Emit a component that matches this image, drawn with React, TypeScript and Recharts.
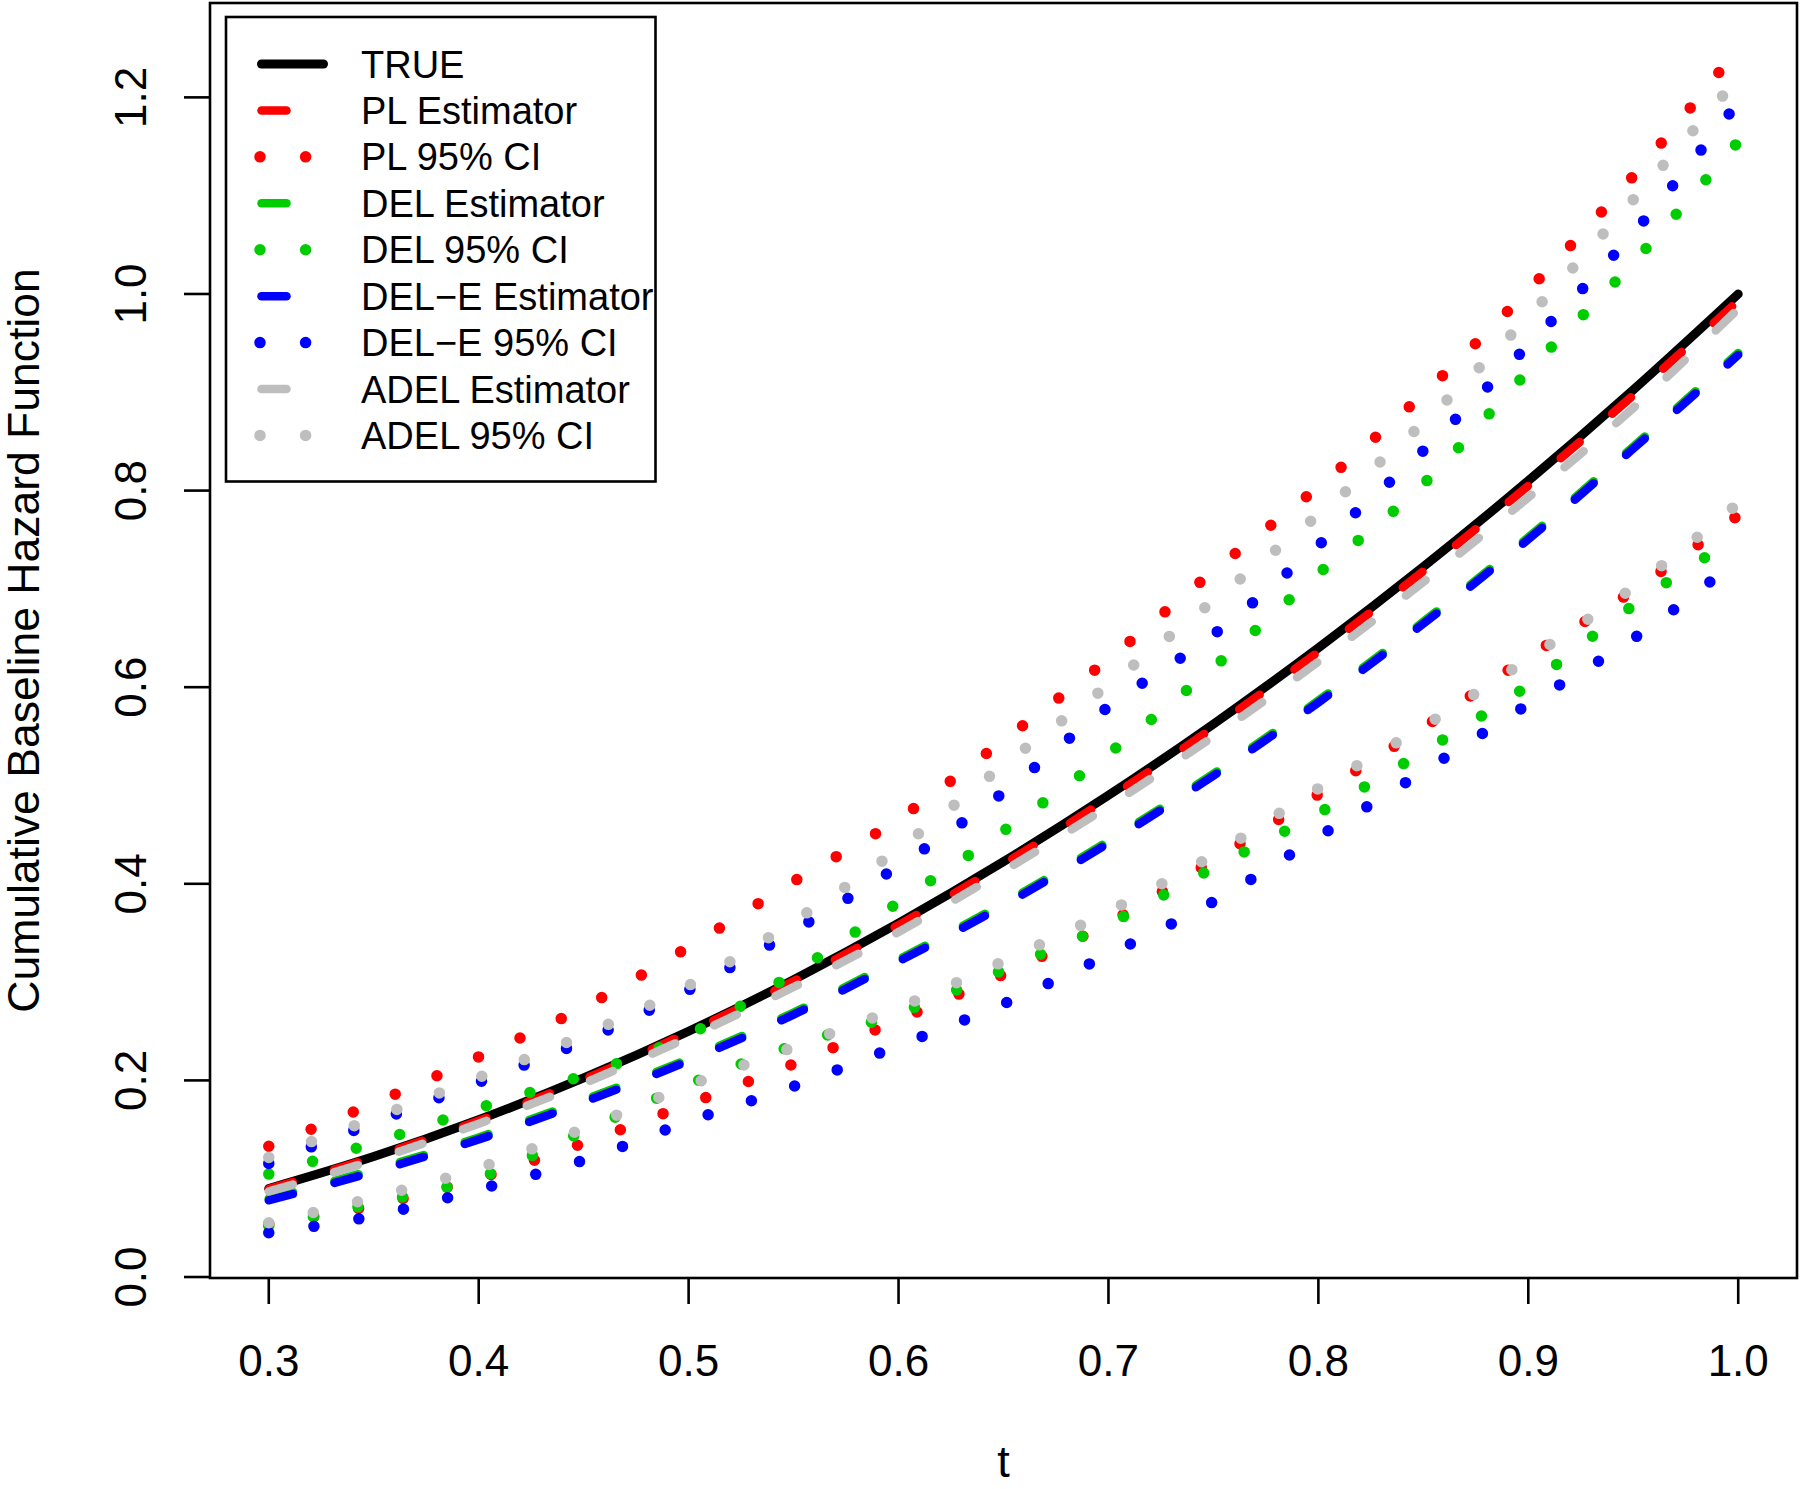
import React from 'react';
import { LineChart, Line, XAxis, YAxis, Customized } from 'recharts';

// grid of t values the curves were read at
const tValues = [0.3, 0.35, 0.4, 0.45, 0.5, 0.55, 0.6, 0.65, 0.7, 0.75, 0.8, 0.85, 0.9, 0.95, 1.0];

const trueH = [0.09, 0.1225, 0.16, 0.2025, 0.25, 0.3025, 0.36, 0.4225, 0.49, 0.5625, 0.64, 0.7225, 0.81, 0.9025, 1.0];

const plEst = [0.0895, 0.122, 0.159, 0.201, 0.249, 0.301, 0.358, 0.42, 0.487, 0.559, 0.636, 0.718, 0.805, 0.897, 0.993];
const plLower = [0.054, 0.073, 0.1006, 0.1363, 0.176, 0.2168, 0.2616, 0.308, 0.3603, 0.424, 0.491, 0.559, 0.6308, 0.6983, 0.775];
const plUpper = [0.133, 0.1766, 0.224, 0.2744, 0.3357, 0.4023, 0.466, 0.546, 0.6286, 0.7181, 0.804, 0.8985, 1.004, 1.12, 1.25];

const delEst = [0.08, 0.109, 0.142, 0.18, 0.222, 0.269, 0.323, 0.38, 0.4435, 0.512, 0.5865, 0.6666, 0.7525, 0.8447, 0.94];
const delLower = [0.052, 0.075, 0.101, 0.148, 0.196, 0.2355, 0.2683, 0.3125, 0.359, 0.4163, 0.4718, 0.5345, 0.602, 0.6832, 0.7535];
const delUpper = [0.1047, 0.1365, 0.1717, 0.2053, 0.2465, 0.309, 0.3812, 0.4537, 0.5324, 0.62, 0.7155, 0.8066, 0.9217, 1.032, 1.155];

const delEEst = [0.078, 0.107, 0.14, 0.178, 0.22, 0.267, 0.321, 0.378, 0.4415, 0.51, 0.5845, 0.6646, 0.7505, 0.8427, 0.938];
const delELower = [0.045, 0.0622, 0.0891, 0.1188, 0.1583, 0.1939, 0.2354, 0.2779, 0.328, 0.3819, 0.4478, 0.5143, 0.5828, 0.6493, 0.7295];
const delEUpper = [0.1156, 0.157, 0.198, 0.24, 0.292, 0.352, 0.418, 0.493, 0.58, 0.6535, 0.7443, 0.8406, 0.948, 1.062, 1.195];

const adelEst = [0.087, 0.119, 0.156, 0.197, 0.244, 0.295, 0.351, 0.413, 0.479, 0.55, 0.626, 0.707, 0.793, 0.884, 0.985];
const adelLower = [0.0552, 0.0808, 0.1109, 0.151, 0.1948, 0.2339, 0.2741, 0.3211, 0.3718, 0.4294, 0.497, 0.56, 0.6289, 0.7016, 0.787];
const adelUpper = [0.1217, 0.1615, 0.203, 0.246, 0.2965, 0.3617, 0.4354, 0.5206, 0.6023, 0.688, 0.7755, 0.869, 0.977, 1.096, 1.22];

const xTicks = [0.3, 0.4, 0.5, 0.6, 0.7, 0.8, 0.9, 1.0];
const yTicks = [0.0, 0.2, 0.4, 0.6, 0.8, 1.0, 1.2];

const data = tValues.map((t, i) => ({
  t,
  trueH: trueH[i],
  plEst: plEst[i],
  plLower: plLower[i],
  plUpper: plUpper[i],
  delEst: delEst[i],
  delLower: delLower[i],
  delUpper: delUpper[i],
  delEEst: delEEst[i],
  delELower: delELower[i],
  delEUpper: delEUpper[i],
  adelEst: adelEst[i],
  adelLower: adelLower[i],
  adelUpper: adelUpper[i],
}));

const FONT = '"Liberation Sans", Arial, Helvetica, sans-serif';
const RED = '#FF0000';
const GREEN = '#00CD00';
const BLUE = '#0000FF';
const GRAY = '#BEBEBE';

const DASH = '25 43';
const DOT = '0 45.6';

type Style = { color: string; width: number; dash?: string };
const solid = (color: string): Style => ({ color, width: 9 });
const dashed = (color: string): Style => ({ color, width: 8.5, dash: DASH });
const dotted = (color: string): Style => ({ color, width: 11.5, dash: DOT });

// drawing order follows the legend
const lines: { key: string; style: Style }[] = [
  { key: 'trueH', style: solid('#000') },
  { key: 'plEst', style: dashed(RED) },
  { key: 'plLower', style: dotted(RED) },
  { key: 'plUpper', style: dotted(RED) },
  { key: 'delEst', style: dashed(GREEN) },
  { key: 'delLower', style: dotted(GREEN) },
  { key: 'delUpper', style: dotted(GREEN) },
  { key: 'delEEst', style: dashed(BLUE) },
  { key: 'delELower', style: dotted(BLUE) },
  { key: 'delEUpper', style: dotted(BLUE) },
  { key: 'adelEst', style: dashed(GRAY) },
  { key: 'adelLower', style: dotted(GRAY) },
  { key: 'adelUpper', style: dotted(GRAY) },
];

const legendItems: { label: string; style: Style }[] = [
  { label: 'TRUE', style: solid('#000') },
  { label: 'PL Estimator', style: dashed(RED) },
  { label: 'PL 95% CI', style: dotted(RED) },
  { label: 'DEL Estimator', style: dashed(GREEN) },
  { label: 'DEL 95% CI', style: dotted(GREEN) },
  { label: 'DEL\u2212E Estimator', style: dashed(BLUE) },
  { label: 'DEL\u2212E 95% CI', style: dotted(BLUE) },
  { label: 'ADEL Estimator', style: dashed(GRAY) },
  { label: 'ADEL 95% CI', style: dotted(GRAY) },
];

const W = 1800;
const H = 1489;
const PLOT = { left: 210, top: 3, right: 1797, bottom: 1278 };

const XTick = ({ x, payload }: any) => (
  <text x={x} y={1376} textAnchor="middle" fontSize={44} fontFamily={FONT} fill="#000">
    {Number(payload.value).toFixed(1)}
  </text>
);

const YTick = ({ y, payload }: any) => (
  <text
    x={146}
    y={y}
    transform={`rotate(-90, 146, ${y})`}
    textAnchor="middle"
    fontSize={44}
    fontFamily={FONT}
    fill="#000"
  >
    {Number(payload.value).toFixed(1)}
  </text>
);

const Decorations = () => {
  const lx = 226;
  const ly = 17;
  const rowY0 = 64;
  const rowStep = 46.43;
  const midY = (PLOT.top + PLOT.bottom) / 2;
  return (
    <g>
      <rect
        x={PLOT.left}
        y={PLOT.top}
        width={PLOT.right - PLOT.left}
        height={PLOT.bottom - PLOT.top}
        fill="none"
        stroke="#000"
        strokeWidth={2.6}
      />
      <rect x={lx} y={ly} width={429.5} height={464.5} fill="#fff" stroke="#000" strokeWidth={2.6} />
      {legendItems.map((item, i) => {
        const y = rowY0 + i * rowStep;
        const s = item.style;
        const x1 = s.dash === DOT ? 260 : 261.5;
        const x2 = s.dash ? 322 : 323.5;
        return (
          <g key={item.label}>
            <line
              x1={x1}
              y1={y}
              x2={x2}
              y2={y}
              stroke={s.color}
              strokeWidth={s.width}
              strokeDasharray={s.dash}
              strokeLinecap="round"
            />
            <text x={361} y={y + 13.5} fontSize={38} fontFamily={FONT} fill="#000">
              {item.label}
            </text>
          </g>
        );
      })}
      <text
        x={39}
        y={midY}
        transform={`rotate(-90, 39, ${midY})`}
        textAnchor="middle"
        fontSize={44.5}
        fontFamily={FONT}
        fill="#000"
      >
        Cumulative Baseline Hazard Function
      </text>
      <text x={(PLOT.left + PLOT.right) / 2} y={1477} textAnchor="middle" fontSize={45} fontFamily={FONT} fill="#000">
        t
      </text>
    </g>
  );
};

export default function App() {
  return (
    <div style={{ position: 'absolute', left: 0, top: 0, width: W, height: H, background: '#fff' }}>
      <LineChart
        width={W}
        height={H}
        data={data}
        margin={{ top: PLOT.top, right: W - PLOT.right, bottom: 0, left: 0 }}
      >
        <XAxis
          type="number"
          dataKey="t"
          domain={[0.272, 1.028]}
          ticks={xTicks}
          interval={0}
          height={H - PLOT.bottom}
          axisLine={false}
          tickLine={{ stroke: '#000', strokeWidth: 2.6 }}
          tickSize={26}
          tick={<XTick />}
        />
        <YAxis
          type="number"
          domain={[-0.001, 1.296]}
          ticks={yTicks}
          interval={0}
          width={PLOT.left}
          axisLine={false}
          tickLine={{ stroke: '#000', strokeWidth: 2.6 }}
          tickSize={26}
          tick={<YTick />}
        />
        {lines.map((l) => (
          <Line
            key={l.key}
            dataKey={l.key}
            type="monotone"
            stroke={l.style.color}
            strokeWidth={l.style.width}
            strokeDasharray={l.style.dash}
            strokeLinecap="round"
            dot={false}
            activeDot={false}
            isAnimationActive={false}
          />
        ))}
        <Customized component={Decorations} />
      </LineChart>
    </div>
  );
}
